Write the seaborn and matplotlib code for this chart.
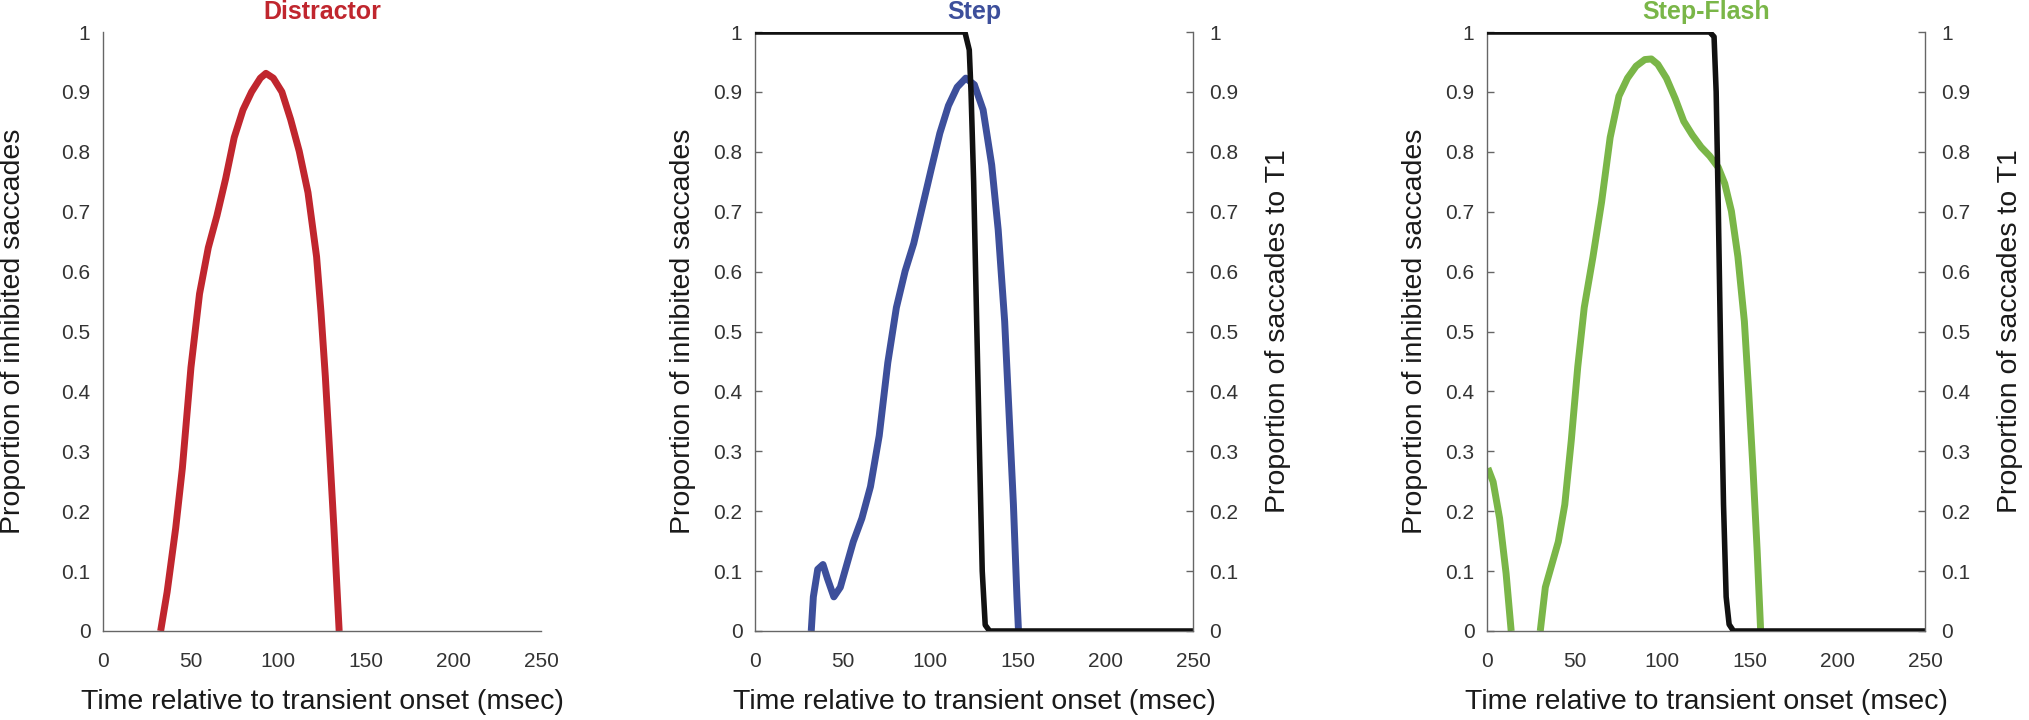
import numpy as np
import pandas as pd
import matplotlib
matplotlib.use("Agg")
import matplotlib.pyplot as plt
import seaborn as sns

sns.set_style("white")
plt.rcParams['font.family'] = ['Liberation Sans', 'DejaVu Sans']

# ---------------- data ----------------
titles = ["Distractor", "Step", "Step-Flash"]
title_colors = ["#C0262E", "#3D4F9B", "#7AB648"]

distractor_t = [32.9, 36.6, 41.5, 45.3, 50.2, 55.1, 60.1, 65.0, 70.0, 74.9, 79.9, 84.8,
                89.8, 93.0, 97.2, 102.1, 107.1, 112.0, 117.0, 121.9, 124.4, 126.9,
                129.3, 131.8, 133.8, 134.8]
distractor_p = [0.0, 0.065, 0.172, 0.272, 0.44, 0.563, 0.64, 0.693, 0.755, 0.824, 0.870,
                0.900, 0.923, 0.931, 0.923, 0.900, 0.854, 0.801, 0.732, 0.625, 0.533,
                0.425, 0.303, 0.172, 0.057, 0.0]

step_t = [32.1, 33.3, 35.8, 38.8, 41.3, 45.0, 48.7, 52.4, 56.1, 61.0, 65.9, 70.9, 75.8,
          80.7, 85.7, 90.6, 95.6, 100.5, 105.5, 110.4, 115.4, 120.3, 125.2, 130.2,
          135.1, 138.8, 142.5, 145.0, 147.5, 149.5, 150.4]
step_p = [0.0, 0.057, 0.103, 0.111, 0.088, 0.057, 0.073, 0.111, 0.149, 0.188, 0.241,
          0.326, 0.448, 0.540, 0.601, 0.647, 0.709, 0.770, 0.831, 0.877, 0.908, 0.923,
          0.912, 0.870, 0.778, 0.670, 0.517, 0.364, 0.211, 0.057, 0.0]

step_t1_t = [0, 119.8, 122.3, 123.3, 124.8, 126.5, 128.2, 129.7, 131.4, 133.9, 250]
step_t1_p = [1.0, 1.0, 0.97, 0.90, 0.75, 0.52, 0.29, 0.10, 0.01, 0.0, 0.0]

flash_early_t = [0.5, 3.5, 7.2, 10.9, 13.8]
flash_early_p = [0.272, 0.249, 0.188, 0.096, 0.0]

flash_t = [30.4, 33.3, 37.0, 40.7, 44.4, 48.1, 51.8, 55.5, 60.5, 65.4, 70.3, 75.3, 80.2,
           85.1, 90.1, 93.8, 97.5, 102.4, 107.4, 112.3, 117.2, 122.2, 127.1, 132.0,
           135.7, 139.5, 143.2, 146.9, 149.3, 151.8, 154.2, 156.2]
flash_p = [0.0, 0.073, 0.111, 0.149, 0.211, 0.318, 0.441, 0.540, 0.625, 0.716, 0.824,
           0.893, 0.923, 0.943, 0.954, 0.955, 0.946, 0.923, 0.889, 0.851, 0.828, 0.808,
           0.793, 0.774, 0.747, 0.701, 0.625, 0.517, 0.402, 0.272, 0.134, 0.0]

flash_t1_t = [0, 127.1, 129.6, 130.8, 132.0, 133.5, 135.0, 136.5, 138.2, 140.7, 250]
flash_t1_p = [1.0, 1.0, 0.992, 0.90, 0.709, 0.441, 0.211, 0.057, 0.011, 0.0, 0.0]

x_ticks = [0, 50, 100, 150, 200, 250]
y_ticks = [0, 0.1, 0.2, 0.3, 0.4, 0.5, 0.6, 0.7, 0.8, 0.9, 1.0]
y_tick_labels = ["0", "0.1", "0.2", "0.3", "0.4", "0.5", "0.6", "0.7", "0.8", "0.9", "1"]

xlabel = "Time relative to transient onset (msec)"
ylabel_left = "Proportion of inhibited saccades"
ylabel_right = "Proportion of saccades to T1"

# ---------------- layout ----------------
W, H = 2029, 720
fig = plt.figure(figsize=(W / 100, H / 100), dpi=100)
spine_col = "#666666"
tick_col = "#333333"

lefts_px = [103, 755, 1487]
ax_w_px = 438
ax_top_px, ax_bot_px = 32, 631
ylab_x = [-0.205, -0.164, -0.164]


def style_axis(ax):
    ax.set_xlim(0, 250)
    ax.set_ylim(0, 1)
    ax.set_xticks(x_ticks)
    ax.set_xticklabels([str(v) for v in x_ticks])
    ax.set_yticks(y_ticks)
    ax.set_yticklabels(y_tick_labels)
    for s in ax.spines.values():
        s.set_color(spine_col)
        s.set_linewidth(1.0)
    ax.spines['top'].set_visible(False)
    ax.tick_params(axis='both', direction='in', length=5, width=1.0, color=spine_col,
                   labelcolor=tick_col, labelsize=15)
    ax.tick_params(axis='x', pad=15)


axes = []
for i in range(3):
    l = lefts_px[i] / W
    b = (H - ax_bot_px) / H
    h = (ax_bot_px - ax_top_px) / H
    ax = fig.add_axes([l, b, ax_w_px / W, h])
    style_axis(ax)
    ax.spines['right'].set_visible(False)
    ax.tick_params(axis='y', pad=9)
    ax.set_xlabel(xlabel, fontsize=20.5, color="#1a1a1a", va='center')
    ax.xaxis.set_label_coords(0.5, -0.119)
    ax.set_ylabel(ylabel_left, fontsize=20.5, color="#1a1a1a", va='center')
    ax.yaxis.set_label_coords(ylab_x[i], 0.5)
    ax.text(0.5, 1.033, titles[i], transform=ax.transAxes, ha='center', va='center',
            fontsize=18, fontweight='bold', color=title_colors[i])
    axes.append(ax)

lw_col = 5.0
lw_blk = 4.0

# Distractor
sns.lineplot(x=distractor_t, y=distractor_p, ax=axes[0], color=title_colors[0],
             linewidth=lw_col, estimator=None, sort=False, solid_capstyle='butt')

# Step
sns.lineplot(x=step_t, y=step_p, ax=axes[1], color=title_colors[1],
             linewidth=lw_col, estimator=None, sort=False, solid_capstyle='butt')

# Step-Flash
sns.lineplot(x=flash_early_t, y=flash_early_p, ax=axes[2], color=title_colors[2],
             linewidth=lw_col, estimator=None, sort=False, solid_capstyle='butt')
sns.lineplot(x=flash_t, y=flash_p, ax=axes[2], color=title_colors[2],
             linewidth=lw_col, estimator=None, sort=False, solid_capstyle='butt')

# right axes with black T1 curves
for ax, tx, ty in [(axes[1], step_t1_t, step_t1_p), (axes[2], flash_t1_t, flash_t1_p)]:
    ax2 = ax.twinx()
    style_axis(ax2)
    ax2.spines['left'].set_visible(False)
    ax2.spines['bottom'].set_visible(False)
    ax2.spines['right'].set_visible(True)
    ax2.tick_params(axis='y', pad=11.5)
    sns.lineplot(x=tx, y=ty, ax=ax2, color="#111111", linewidth=lw_blk,
                 estimator=None, sort=False)
    ax2.set_xlim(0, 250)
    ax2.set_ylim(0, 1)
    ax2.set_ylabel(ylabel_right, fontsize=20.5, color="#1a1a1a", va='center',
                   rotation=90)
    ax2.yaxis.set_label_coords(1.195, 0.5)
    ax2.set_xlabel("")

fig.savefig("out.png", dpi=100, facecolor="white")
